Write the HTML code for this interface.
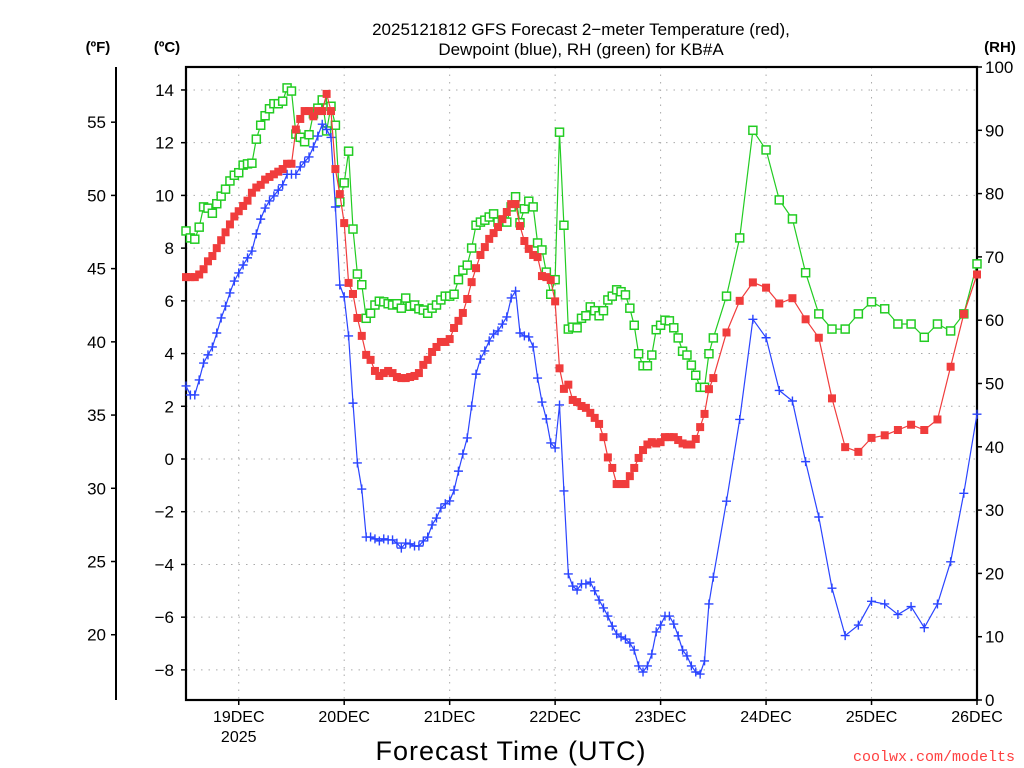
<!DOCTYPE html>
<html><head><meta charset="utf-8"><style>
html,body{margin:0;padding:0;background:#fff;}
svg{display:block;font-family:"Liberation Sans",sans-serif;}
</style></head><body>
<svg id="chart" width="1024" height="768" viewBox="0 0 1024 768">
<text x="581" y="35" text-anchor="middle" font-size="17">2025121812 GFS Forecast 2−meter Temperature (red),</text>
<text x="581" y="55" text-anchor="middle" font-size="17">Dewpoint (blue), RH (green) for KB#A</text>
<text x="98" y="52" text-anchor="middle" font-size="15" font-weight="bold">(ºF)</text>
<text x="167" y="52" text-anchor="middle" font-size="15" font-weight="bold">(ºC)</text>
<text x="1000" y="52" text-anchor="middle" font-size="15" font-weight="bold">(RH)</text>
<text x="511" y="760" text-anchor="middle" font-size="27" letter-spacing="1">Forecast Time (UTC)</text>
<text x="1015" y="761" text-anchor="end" font-size="15" fill="#ff4040" font-family="Liberation Mono, monospace">coolwx.com/modelts</text>
<g id="grid"></g>
<g id="axes"></g>
<g id="series"></g>
</svg>
<script>
const tempC = [6.9,6.9,6.9,7.0,7.2,7.5,7.7,8.0,8.3,8.6,8.9,9.2,9.4,9.6,9.8,10.1,10.3,10.4,10.6,10.7,10.8,10.9,11.0,11.2,11.2,12.5,12.9,13.2,13.2,13.0,13.2,13.2,13.85,13.2,11.0,10.05,8.95,6.68,6.26,5.35,4.67,3.95,3.76,3.34,3.15,3.26,3.34,3.26,3.11,3.07,3.07,3.11,3.15,3.26,3.57,3.76,4.06,4.25,4.44,4.44,4.55,4.97,5.24,5.54,6.07,6.71,7.24,7.74,8.04,8.35,8.57,8.8,9.1,9.37,9.67,9.67,8.84,8.27,7.97,7.74,7.66,6.94,6.9,6.79,5.98,3.44,2.66,2.82,2.24,2.16,2.01,1.94,1.75,1.56,1.33,0.83,0.06,-0.34,-0.95,-0.95,-0.95,-0.65,-0.34,0.04,0.34,0.55,0.64,0.59,0.64,0.83,0.83,0.83,0.72,0.59,0.55,0.55,0.76,1.21,1.71,2.65,3.07,
4.8,6.0,6.7,6.5,5.9,6.1,5.3,4.6,2.3,0.45,0.27,0.8,0.9,1.1,1.3,1.1,1.5,3.5,5.5,7.0];
const dewC = [2.77,2.43,2.43,3.0,3.64,3.95,4.25,4.78,5.35,5.8,6.3,6.75,7.06,7.36,7.63,7.89,8.54,9.1,9.52,9.79,9.98,10.2,10.4,10.8,10.8,10.8,11.08,11.27,11.46,11.84,12.25,12.7,12.5,12.2,9.56,6.6,6.15,4.67,2.12,-0.15,-1.14,-2.96,-2.96,-3.03,-3.11,-3.03,-3.07,-3.07,-3.19,-3.38,-3.19,-3.22,-3.3,-3.3,-3.11,-2.96,-2.5,-2.24,-1.86,-1.7,-1.59,-1.18,-0.46,0.19,0.8,2.01,3.22,3.79,4.1,4.48,4.74,4.86,5.12,5.39,6.11,6.37,4.78,4.67,4.63,4.25,3.07,2.16,1.52,0.61,0.42,2.05,-1.21,-4.36,-4.82,-4.97,-4.74,-4.74,-4.67,-5.0,-5.35,-5.65,-5.96,-6.34,-6.64,-6.75,-6.83,-6.98,-7.25,-7.85,-8.08,-7.85,-7.4,-6.56,-6.3,-5.96,-5.96,-6.26,-6.71,-7.25,-7.47,-7.85,-8.08,-8.16,-7.66,-5.5,-4.48,
-1.6,1.5,5.3,4.6,2.6,2.2,-0.1,-2.2,-4.9,-6.7,-6.3,-5.4,-5.5,-5.9,-5.6,-6.4,-5.5,-3.9,-1.3,1.7];
const rhPct = [74.1,73.0,72.8,74.7,77.9,77.7,76.9,78.4,79.6,80.7,82.0,82.9,83.3,84.5,84.7,84.8,88.6,90.8,92.3,93.4,94.2,94.2,94.6,96.7,96.2,89.4,88.9,88.2,89.3,92.6,93.5,94.8,89.9,93.8,90.8,78.7,81.7,86.7,74.4,67.3,65.6,60.3,61.1,62.4,63.0,62.9,62.6,62.4,62.6,61.9,63.5,62.2,62.4,61.8,61.6,61.1,61.9,62.4,63.2,63.8,63.8,64.1,66.4,67.9,68.7,71.4,75.0,75.5,75.8,76.3,76.8,75.5,75.7,75.5,77.9,79.5,75.4,77.6,78.8,77.9,72.2,71.1,67.6,64.1,66.4,89.7,75.0,58.6,58.9,58.8,60.3,60.7,62.1,61.5,60.7,61.5,63.2,63.8,64.8,64.5,64.0,61.9,59.2,54.7,52.8,52.8,54.5,58.5,59.2,60.0,59.9,58.8,57.2,55.1,54.5,52.9,51.3,49.4,49.4,54.7,57.2,
63.8,73,90,86.9,79,76,67.5,61,58.6,58.6,61,62.9,61.8,59.4,59.4,57.3,59.4,58.3,61,68.9];
const hourlyEnd = 120, stepLate = 3;
const dayLabels = ["19DEC","20DEC","21DEC","22DEC","23DEC","24DEC","25DEC","26DEC"];
const cTicks = [14,12,10,8,6,4,2,0,-2,-4,-6,-8];
const fTicks = [55,50,45,40,35,30,25,20];
const rhTicks = [100,90,80,70,60,50,40,30,20,10,0];

const L=186,R=977,T=67,B=700, totalH=180;
const xH = h => L + (R-L)*h/totalH;
const yC = c => 459 - 26.36*c;
const yF = f => yC((f-32)/1.8);
const yRH = r => B - (B-T)*r/100;
const NS="http://www.w3.org/2000/svg";
function mk(tag, attrs, parent){const e=document.createElementNS(NS,tag);for(const k in attrs)e.setAttribute(k,attrs[k]);parent.appendChild(e);return e;}
const hours=[];
for(let i=0;i<tempC.length;i++){hours.push(i<=hourlyEnd? i : hourlyEnd + (i-hourlyEnd)*stepLate);}

const grid=document.getElementById('grid'), axes=document.getElementById('axes'), series=document.getElementById('series');
cTicks.forEach(c=>{const l=mk('line',{x1:L,x2:R,y1:yC(c),y2:yC(c),stroke:'#aaa','stroke-dasharray':'1.5 6'},grid);
 });
dayLabels.forEach((d,i)=>{const x=xH(12+24*i);const l=mk('line',{x1:x,x2:x,y1:T,y2:B,stroke:'#aaa','stroke-dasharray':'1.5 6'},grid);
 });
const fr=mk('rect',{x:L,y:T,width:R-L,height:B-T,fill:'none',stroke:'#000','stroke-width':2.2},axes);
 
const fa=mk('line',{x1:116,x2:116,y1:T,y2:B,stroke:'#000','stroke-width':2},axes);
 
cTicks.forEach(c=>{const y=yC(c);mk('line',{x1:L-5,x2:L,y1:y,y2:y,stroke:'#000','stroke-width':1.5},axes);
const t=mk('text',{x:L-12,y:y+6,'text-anchor':'end','font-size':17},axes);t.textContent=(c<0?'−'+(-c):c);
 });
fTicks.forEach(f=>{const y=yF(f);mk('line',{x1:111,x2:116,y1:y,y2:y,stroke:'#000','stroke-width':1.5},axes);
const t=mk('text',{x:106,y:y+6,'text-anchor':'end','font-size':17},axes);t.textContent=f;
 });
rhTicks.forEach(r=>{const y=yRH(r);mk('line',{x1:R,x2:R+5,y1:y,y2:y,stroke:'#000','stroke-width':1.5},axes);
const t=mk('text',{x:R+8,y:y+6,'text-anchor':'start','font-size':17},axes);t.textContent=r;
 });
dayLabels.forEach((d,i)=>{const x=xH(12+24*i);mk('line',{x1:x,x2:x,y1:B,y2:B+5,stroke:'#000','stroke-width':1.5},axes);
const t=mk('text',{x:x,y:722,'text-anchor':'middle','font-size':16},axes);t.textContent=d;
 });
const yr=mk('text',{x:xH(12),y:742,'text-anchor':'middle','font-size':16},axes);yr.textContent='2025';
 

function drawSeries(vals, yf, color, kind, name){
  const g=mk('g',{},series);
   
  const pts=vals.map((v,i)=>xH(hours[i]).toFixed(1)+','+yf(v).toFixed(1)).join(' ');
  const pl=mk('polyline',{points:pts,fill:'none',stroke:color,'stroke-width':1.2},g);
   
  vals.forEach((v,i)=>{const x=xH(hours[i]),y=yf(v);let m;
    if(kind==='fill') m=mk('rect',{x:x-4,y:y-4,width:8,height:8,fill:color},g);
    else if(kind==='open') m=mk('rect',{x:x-4,y:y-4,width:8,height:8,fill:'#fff',stroke:color,'stroke-width':1.5},g);
    else m=mk('path',{d:`M${x-4.5} ${y}H${x+4.5}M${x} ${y-4.5}V${y+4.5}`,stroke:color,'stroke-width':1.4},g);
     });
}
drawSeries(rhPct,yRH,'#22cc22','open','rh-series');
drawSeries(dewC,yC,'#2a44ff','plus','dewpoint-series');
drawSeries(tempC,yC,'#f03c3c','fill','temperature-series');
</script>
</body></html>
